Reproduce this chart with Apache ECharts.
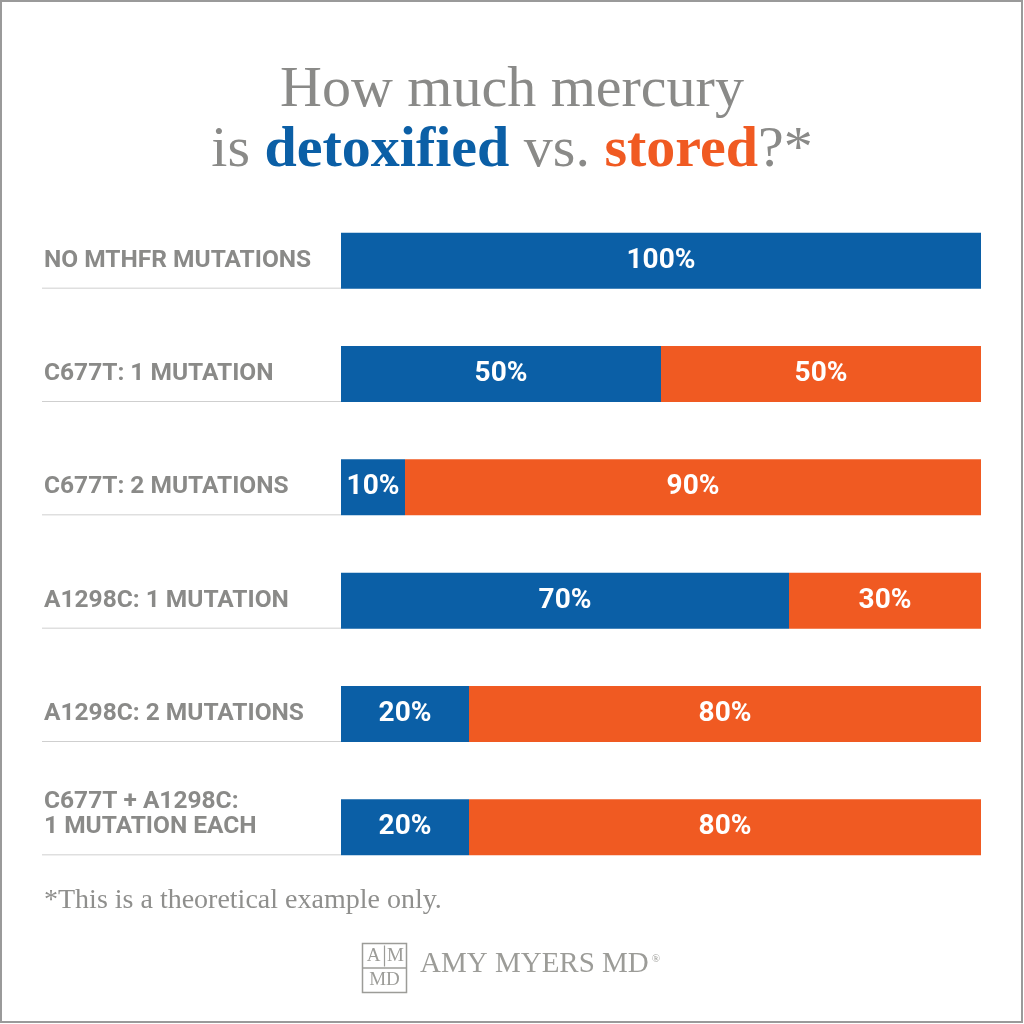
<!DOCTYPE html>
<html><head><meta charset="utf-8">
<script src="https://cdn.jsdelivr.net/npm/echarts@6/dist/echarts.min.js"></script>
<style>html,body{margin:0;padding:0;background:#fff}#c{width:1024px;height:1024px}</style>
</head><body><div id="c"></div>
<script>
var categories = ['NO MTHFR MUTATIONS','C677T: 1 MUTATION','C677T: 2 MUTATIONS','A1298C: 1 MUTATION','A1298C: 2 MUTATIONS','C677T + A1298C:\n1 MUTATION EACH'];
var detoxified = [100,50,10,70,20,20];
var stored = [0,50,90,30,80,80];
var BLUE = '#0b5fa6', ORANGE = '#f05a22', GRAY = '#8a8a88';
var SERIF = '"Liberation Serif", "DejaVu Serif", serif';
var SANS = 'Roboto, "Noto Sans", sans-serif';

var chart = echarts.init(document.getElementById('c'), null, {renderer:'canvas'});
var barLabel = {show:true, position:'inside', color:'#fff', fontFamily:SANS, fontWeight:'bold', fontSize:28,
  formatter:function(p){return p.value>0 ? p.value+'%' : '';}};
chart.setOption({
  backgroundColor:'#fff',
  animation:false,
  title:{
    text:'{n|How much mercury}\n{n|is }{b|detoxified}{n| vs. }{o|stored}{n|?*}',
    left:'center', top:56,
    textStyle:{rich:{
      n:{fontFamily:SERIF, fontSize:58, color:GRAY, fontWeight:'normal', lineHeight:60},
      b:{fontFamily:SERIF, fontSize:58, color:BLUE, fontWeight:'bold', lineHeight:60},
      o:{fontFamily:SERIF, fontSize:58, color:ORANGE, fontWeight:'bold', lineHeight:60}
    }}
  },
  grid:{left:341, right:43, top:204, height:680, containLabel:false, outerBoundsMode:'none'},
  xAxis:{type:'value', min:0, max:100, show:false},
  yAxis:{type:'category', data:categories, inverse:true,
    axisLine:{show:false}, axisTick:{show:false}, splitLine:{show:false},
    axisLabel:{align:'left', margin:297, color:GRAY, fontFamily:SANS, fontWeight:'bold', fontSize:24.5, lineHeight:25,
      formatter:function(v){return v.indexOf('\n')>=0 ? v+'\n ' : v;}}
  },
  series:[
    {name:'detoxified', type:'bar', stack:'s', data:detoxified, barWidth:56, itemStyle:{color:BLUE}, label:barLabel},
    {name:'stored', type:'bar', stack:'s', data:stored, barWidth:56, itemStyle:{color:ORANGE}, label:barLabel}
  ]
});

var g = [];
g.push({type:'rect', shape:{x:1,y:1,width:1021,height:1021}, style:{fill:null, stroke:'#9a9a9a', lineWidth:2}, silent:true});
categories.forEach(function(c,i){
  var y = chart.convertToPixel({yAxisIndex:0}, i) + 28;
  var x0 = chart.convertToPixel({xAxisIndex:0}, 0);
  g.push({type:'line', shape:{x1:42, y1:y-0.5, x2:x0, y2:y-0.5}, style:{stroke:'#cfcfcf', lineWidth:1}, silent:true});
});
g.push({type:'text', left:44, top:887, style:{text:'*This is a theoretical example only.', font:'28px '+SERIF, fill:'#8f8f8d'}});
var LG = '#9c9c98';
g.push({type:'group', left:360, top:941, children:[
  {type:'rect', shape:{x:0,y:0,width:44,height:49}, style:{fill:null, stroke:LG, lineWidth:1.5}},
  {type:'line', shape:{x1:0,y1:24.5,x2:44,y2:24.5}, style:{stroke:LG, lineWidth:1.5}},
  {type:'line', shape:{x1:22,y1:2,x2:22,y2:23}, style:{stroke:LG, lineWidth:1.2}},
  {type:'text', x:11, y:13, style:{text:'A', font:'19px '+SERIF, fill:LG, align:'center', verticalAlign:'middle'}},
  {type:'text', x:33, y:13, style:{text:'M', font:'19px '+SERIF, fill:LG, align:'center', verticalAlign:'middle'}},
  {type:'text', x:22, y:37, style:{text:'MD', font:'19px '+SERIF, fill:LG, align:'center', verticalAlign:'middle'}}
]});
var logoFont = '29px '+SERIF;
var ctx = document.createElement('canvas').getContext('2d');
ctx.font = logoFont;
var w = ctx.measureText('AMY MYERS MD').width;
g.push({type:'text', left:420, top:950, style:{text:'AMY MYERS MD', font:logoFont, fill:LG}});
g.push({type:'text', left:420+w+3, top:954, style:{text:'®', font:'11px '+SERIF, fill:LG}});
chart.setOption({graphic:g});
</script></body></html>
